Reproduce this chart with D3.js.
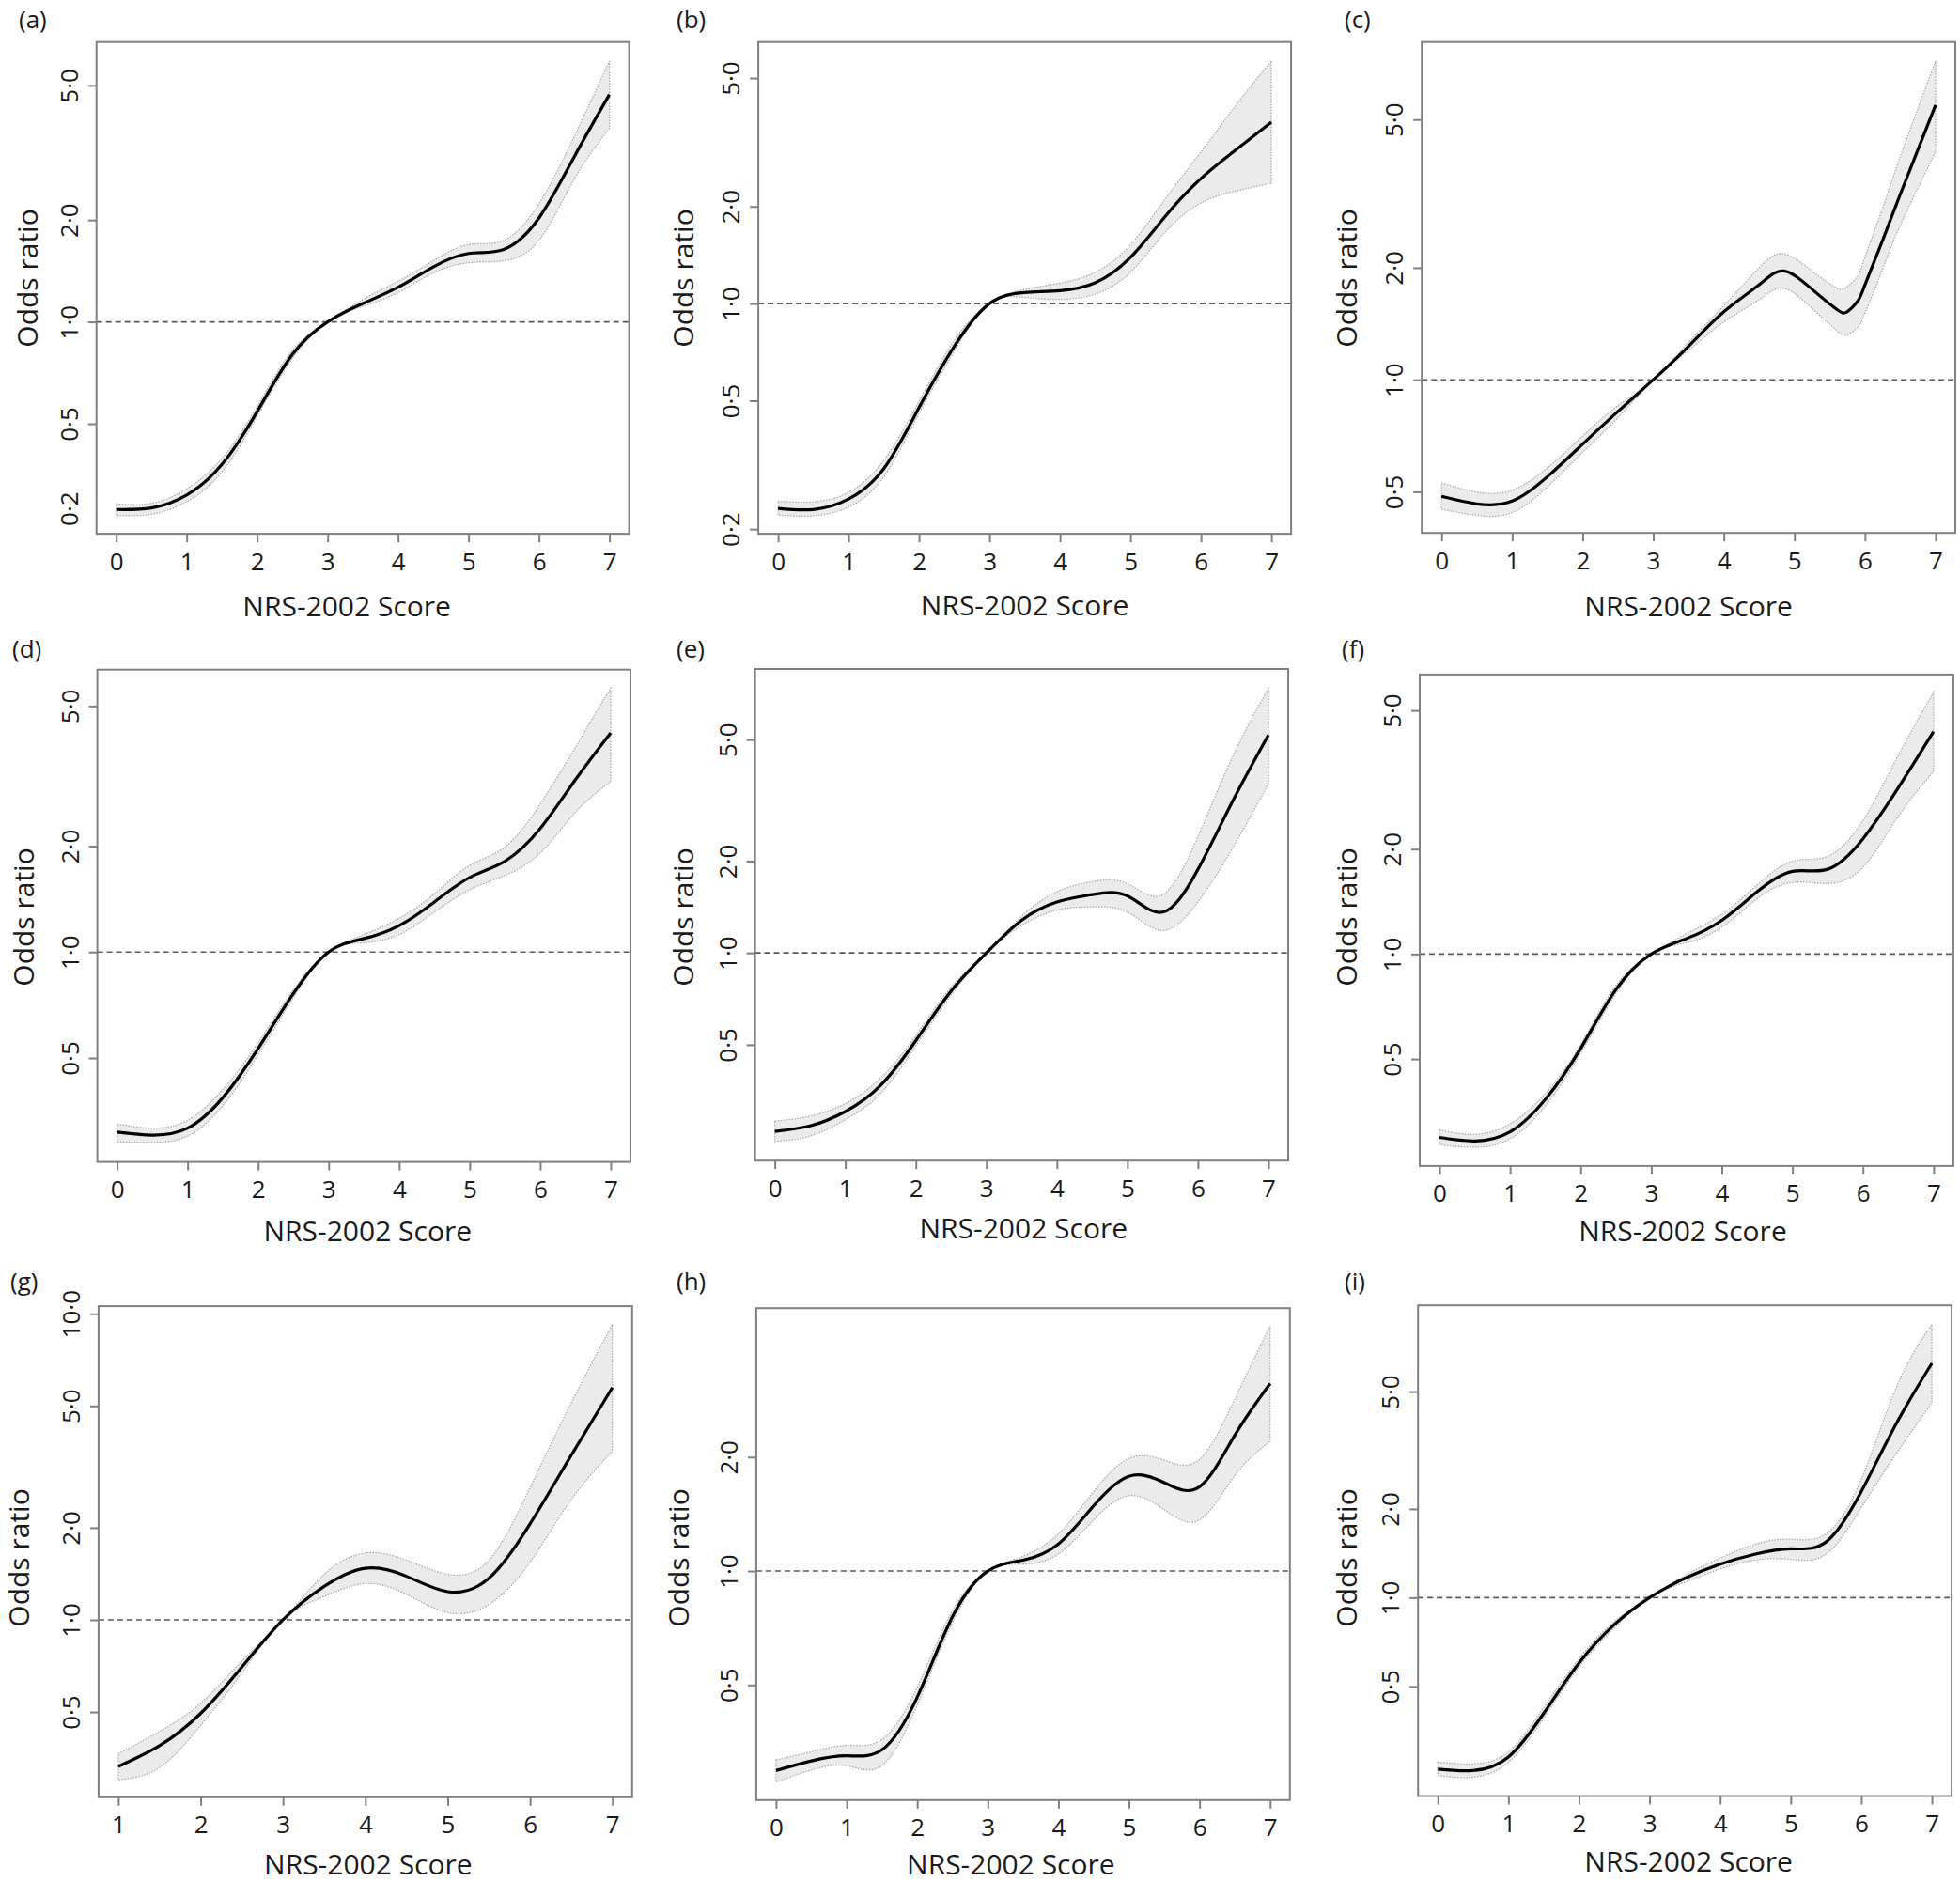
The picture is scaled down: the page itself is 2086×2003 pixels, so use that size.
<!DOCTYPE html>
<html>
<head>
<meta charset="utf-8">
<script src="https://cdn.jsdelivr.net/npm/d3@7"></script>
<style>
  body { margin: 0; background: #fff; }
  text { font-family: "Open Sans", "Noto Sans", sans-serif; fill: #1a1a1a; }
</style>
</head>
<body>
<svg id="fig" width="2086" height="2003"></svg>
<script>
// Odds ratio curves (with 95% band) against NRS-2002 score.

const score07 = [0, 0.5, 1, 1.5, 2, 2.5, 3, 3.5, 4, 4.5, 5, 5.5, 6, 6.5, 7];
const scoreC  = [0, 0.5, 1, 1.5, 2, 2.5, 3, 3.5, 4, 4.5, 4.85, 5.25, 5.6, 5.75, 5.9, 6, 6.25, 6.5, 7];
const scoreG  = [1, 1.5, 2, 2.5, 3, 3.5, 4, 4.5, 5, 5.5, 6, 6.5, 7];

const aOR = [0.279, 0.282, 0.308, 0.379, 0.543, 0.801, 1, 1.133, 1.266, 1.454, 1.593, 1.638, 2.028, 3.074, 4.698];
const aLo = [0.268, 0.270, 0.294, 0.360, 0.526, 0.779, 1, 1.111, 1.221, 1.395, 1.495, 1.516, 1.741, 2.639, 3.732];
const aHi = [0.290, 0.291, 0.321, 0.395, 0.562, 0.824, 1, 1.165, 1.319, 1.516, 1.693, 1.741, 2.235, 3.531, 5.896];

const bOR = [0.232, 0.230, 0.248, 0.308, 0.476, 0.737, 1, 1.082, 1.097, 1.160, 1.390, 1.870, 2.440, 3.000, 3.650];
const bLo = [0.221, 0.220, 0.234, 0.291, 0.456, 0.712, 1, 1.044, 1.030, 1.070, 1.250, 1.670, 2.050, 2.234, 2.360];
const bHi = [0.244, 0.243, 0.260, 0.327, 0.498, 0.770, 1, 1.107, 1.157, 1.250, 1.520, 2.120, 2.950, 4.130, 5.650];

const cOR = [0.486, 0.464, 0.472, 0.549, 0.672, 0.822, 1, 1.230, 1.523, 1.800, 1.960, 1.750, 1.545, 1.523, 1.630, 1.800, 2.370, 3.150, 5.470];
const cLo = [0.449, 0.432, 0.440, 0.515, 0.638, 0.791, 1, 1.199, 1.430, 1.640, 1.762, 1.554, 1.356, 1.318, 1.384, 1.510, 1.980, 2.600, 4.090];
const cHi = [0.529, 0.499, 0.505, 0.580, 0.706, 0.853, 1, 1.261, 1.582, 2.000, 2.180, 1.960, 1.765, 1.780, 1.905, 2.140, 2.890, 3.980, 7.180];

const dOR = [0.308, 0.302, 0.316, 0.386, 0.532, 0.762, 1, 1.092, 1.189, 1.388, 1.629, 1.812, 2.243, 3.089, 4.196];
const dLo = [0.289, 0.288, 0.300, 0.366, 0.511, 0.742, 1, 1.063, 1.121, 1.298, 1.503, 1.651, 1.911, 2.495, 3.048];
const dHi = [0.325, 0.316, 0.333, 0.407, 0.553, 0.782, 1, 1.121, 1.248, 1.464, 1.764, 1.989, 2.632, 3.823, 5.626];

const eOR = [0.260, 0.271, 0.302, 0.368, 0.516, 0.750, 1, 1.279, 1.468, 1.552, 1.538, 1.360, 1.877, 3.167, 5.177];
const eLo = [0.241, 0.251, 0.284, 0.346, 0.496, 0.727, 1, 1.229, 1.381, 1.415, 1.360, 1.184, 1.468, 2.223, 3.580];
const eHi = [0.281, 0.292, 0.321, 0.389, 0.536, 0.773, 1, 1.318, 1.586, 1.713, 1.686, 1.552, 2.402, 4.440, 7.372];

const fOR = [0.298, 0.291, 0.309, 0.383, 0.536, 0.791, 1, 1.108, 1.250, 1.509, 1.727, 1.751, 2.142, 2.999, 4.347];
const fLo = [0.284, 0.279, 0.295, 0.367, 0.519, 0.770, 1, 1.078, 1.194, 1.442, 1.606, 1.593, 1.774, 2.484, 3.340];
const fHi = [0.313, 0.304, 0.326, 0.398, 0.550, 0.813, 1, 1.144, 1.302, 1.580, 1.847, 1.908, 2.417, 3.719, 5.645];

const gOR = [0.332, 0.388, 0.495, 0.701, 1, 1.286, 1.474, 1.388, 1.236, 1.367, 2.058, 3.447, 5.739];
const gLo = [0.300, 0.329, 0.452, 0.670, 1, 1.192, 1.314, 1.211, 1.056, 1.122, 1.543, 2.470, 3.553];
const gHi = [0.365, 0.432, 0.534, 0.734, 1, 1.409, 1.654, 1.567, 1.409, 1.567, 2.705, 5.113, 9.239];

const hOR = [0.297, 0.315, 0.325, 0.337, 0.464, 0.758, 1, 1.068, 1.179, 1.488, 1.780, 1.712, 1.670, 2.286, 3.130];
const hLo = [0.277, 0.298, 0.306, 0.306, 0.442, 0.731, 1, 1.043, 1.109, 1.365, 1.582, 1.452, 1.365, 1.788, 2.203];
const hHi = [0.317, 0.333, 0.346, 0.359, 0.493, 0.786, 1, 1.095, 1.253, 1.622, 1.983, 1.963, 1.973, 2.851, 4.434];

const iOR = [0.262, 0.259, 0.288, 0.405, 0.600, 0.810, 1, 1.163, 1.299, 1.405, 1.464, 1.545, 2.290, 3.912, 6.236];
const iLo = [0.249, 0.246, 0.276, 0.390, 0.582, 0.790, 1, 1.127, 1.251, 1.341, 1.349, 1.405, 2.019, 3.090, 4.579];
const iHi = [0.277, 0.273, 0.300, 0.424, 0.620, 0.830, 1, 1.189, 1.362, 1.520, 1.579, 1.645, 2.517, 5.195, 8.465];

// Axis limits and ticks.
const xTicks07 = [0, 1, 2, 3, 4, 5, 6, 7];
const xTicksG  = [1, 2, 3, 4, 5, 6, 7];
const xDom07   = [-0.28, 7.28];
const xDomG    = [0.76, 7.24];
const yTicksStd = [0.5, 1, 2, 5];
const yTicksB   = [0.2, 0.5, 1, 2, 5];
const yTicksG   = [0.5, 1, 2, 5, 10];
const yTicksH   = [0.5, 1, 2];
const yDomains  = [[0.2365, 6.717], [0.1935, 6.466], [0.3877, 8.08],
                   [0.2534, 6.342], [0.2086, 8.52],  [0.2467, 6.337],
                   [0.2633, 10.59], [0.2482, 4.952], [0.2123, 9.815]];
const panelLetters = ["(a)", "(b)", "(c)", "(d)", "(e)", "(f)", "(g)", "(h)", "(i)"];

// Panel (a) carries a stray "0·2" label with no tick mark.
const strayLabel = { panel: 0, value: 0.28, text: "0\u00B72" };

// Layout: plot box [left, top, right, bottom], letter pos, y-title pos, x-title shift.
const layout = [
  { box: [102.7,  44.7, 669.6,  568.1], lx: 20,   ly: 30,   yt: 29,   ytY: 296,  xtDx: -17, xtDy: 77 },
  { box: [807.1,  44.7, 1374.1, 568.1], lx: 720,  ly: 30,   yt: 727,  ytY: 296,  xtDx: 0,   xtDy: 76 },
  { box: [1513.2, 44.7, 2081,   567.2], lx: 1431, ly: 30,   yt: 1433, ytY: 296,  xtDx: 0,   xtDy: 78 },
  { box: [103.6,  712.7, 671,  1236.6], lx: 13,   ly: 700,  yt: 25,   ytY: 976,  xtDx: 4,   xtDy: 74 },
  { box: [803.6,  712,  1371,  1235.2], lx: 720,  ly: 700,  yt: 727,  ytY: 976,  xtDx: 2,   xtDy: 72 },
  { box: [1511,   717.9, 2078.9, 1240.9], lx: 1428, ly: 700, yt: 1433, ytY: 976,  xtDx: -4,  xtDy: 70 },
  { box: [104.9, 1390.1, 672.8, 1912.8], lx: 11,   ly: 1373, yt: 20,   ytY: 1658, xtDx: 3,   xtDy: 72 },
  { box: [804.9, 1392.2, 1372.8, 1915.8], lx: 720, ly: 1373, yt: 722,  ytY: 1658, xtDx: -13, xtDy: 69 },
  { box: [1509.2, 1389.2, 2077.1, 1911.5], lx: 1431, ly: 1373, yt: 1433, ytY: 1658, xtDx: 4, xtDy: 70 }
];

const series = [
  [score07, aOR, aLo, aHi, xTicks07, xDom07, yTicksStd],
  [score07, bOR, bLo, bHi, xTicks07, xDom07, yTicksB],
  [scoreC,  cOR, cLo, cHi, xTicks07, xDom07, yTicksStd],
  [score07, dOR, dLo, dHi, xTicks07, xDom07, yTicksStd],
  [score07, eOR, eLo, eHi, xTicks07, xDom07, yTicksStd],
  [score07, fOR, fLo, fHi, xTicks07, xDom07, yTicksStd],
  [scoreG,  gOR, gLo, gHi, xTicksG,  xDomG,  yTicksG],
  [score07, hOR, hLo, hHi, xTicks07, xDom07, yTicksH],
  [score07, iOR, iLo, iHi, xTicks07, xDom07, yTicksStd]
];

const gray = "#808080";
const tickFont = 26;
const fmt = v => d3.format(".1f")(v).replace(".", "\u00B7");

const svg = d3.select("#fig");

series.forEach(function(s, k) {
  const [score, or, lo, hi, xTicks, xDom, yTicks] = s;
  const L = layout[k];
  const [bl, bt, br, bb] = L.box;

  const x = d3.scaleLinear().domain(xDom).range([bl, br]);
  const y = d3.scaleLog().domain(yDomains[k]).range([bb, bt]);

  const rows = score.map((v, i) => ({ s: v, or: or[i], lo: lo[i], hi: hi[i] }));
  const g = svg.append("g").attr("class", "panel");

  // confidence band
  g.append("path")
    .datum(rows)
    .attr("d", d3.area()
      .x(d => x(d.s)).y0(d => y(d.lo)).y1(d => y(d.hi))
      .curve(d3.curveNatural))
    .attr("fill", "#ebebeb")
    .attr("stroke", "#a8a8a8")
    .attr("stroke-width", 1.2)
    .attr("stroke-dasharray", "1.5,1.5");

  // reference line at OR = 1
  g.append("line")
    .attr("x1", bl).attr("x2", br)
    .attr("y1", y(1)).attr("y2", y(1))
    .attr("stroke", "#5a5a5a")
    .attr("stroke-width", 1.6)
    .attr("stroke-dasharray", "6,4");

  // fitted curve
  g.append("path")
    .datum(rows)
    .attr("d", d3.line().x(d => x(d.s)).y(d => y(d.or)).curve(d3.curveNatural))
    .attr("fill", "none")
    .attr("stroke", "#000")
    .attr("stroke-width", 3.2)
    .attr("stroke-linejoin", "round");

  // plot box
  g.append("rect")
    .attr("x", bl).attr("y", bt)
    .attr("width", br - bl).attr("height", bb - bt)
    .attr("fill", "none").attr("stroke", gray).attr("stroke-width", 2);

  // x axis
  const xa = g.append("g")
    .attr("transform", `translate(0,${bb})`)
    .call(d3.axisBottom(x).tickValues(xTicks).tickFormat(d3.format("d")).tickSize(9).tickPadding(11));
  xa.select(".domain").remove();
  xa.selectAll(".tick line").attr("stroke", gray).attr("stroke-width", 2);
  xa.selectAll(".tick text")
    .attr("font-family", "Open Sans, Noto Sans, sans-serif")
    .attr("font-size", tickFont).attr("fill", "#1a1a1a");

  // y axis with labels parallel to the axis
  const ya = g.append("g")
    .attr("transform", `translate(${bl},0)`)
    .call(d3.axisLeft(y).tickValues(yTicks).tickFormat(fmt).tickSize(9));
  ya.select(".domain").remove();
  ya.selectAll(".tick line").attr("stroke", gray).attr("stroke-width", 2);
  ya.selectAll(".tick text")
    .attr("x", null).attr("dy", "0.35em")
    .attr("text-anchor", "middle")
    .attr("transform", "translate(-29,0) rotate(-90)")
    .attr("font-family", "Open Sans, Noto Sans, sans-serif")
    .attr("font-size", tickFont).attr("fill", "#1a1a1a");

  if (strayLabel.panel === k) {
    g.append("text")
      .attr("transform", `translate(${bl - 29},${y(strayLabel.value)}) rotate(-90)`)
      .attr("dy", "0.35em").attr("text-anchor", "middle")
      .attr("font-size", tickFont)
      .text(strayLabel.text);
  }

  // titles
  g.append("text")
    .attr("x", (bl + br) / 2 + L.xtDx).attr("y", bb + L.xtDy)
    .attr("dy", "0.35em").attr("text-anchor", "middle")
    .attr("font-size", 30)
    .text("NRS-2002 Score");

  g.append("text")
    .attr("transform", `translate(${L.yt},${L.ytY}) rotate(-90)`)
    .attr("dy", "0.35em").attr("text-anchor", "middle")
    .attr("font-size", 30)
    .text("Odds ratio");

  g.append("text")
    .attr("x", L.lx).attr("y", L.ly)
    .attr("font-size", 26)
    .text(panelLetters[k]);
});
</script>
</body>
</html>
